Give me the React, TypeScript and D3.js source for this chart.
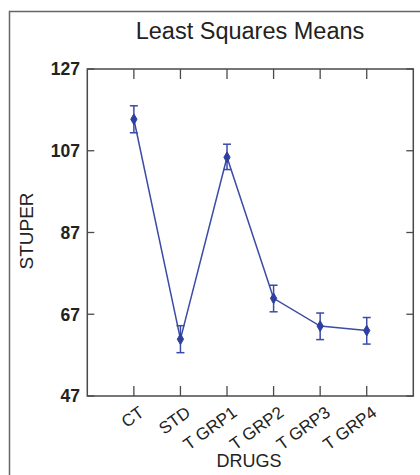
import React from "react";
import * as d3 from "d3";

const categories = ["CT", "STD", "T GRP1", "T GRP2", "T GRP3", "T GRP4"];
const means = [114.7, 60.9, 105.4, 70.9, 64.1, 63.0];
const lower = [111.4, 57.6, 102.4, 67.6, 60.8, 59.7];
const upper = [118.0, 64.2, 108.6, 74.1, 67.3, 66.2];
const yTicks = [47, 67, 87, 107, 127];

const W = 420;
const H = 475;
const left = 87.3;
const right = 413.3;
const top = 69;
const bottom = 396;
const font = "'Liberation Sans', Arial, sans-serif";
const blue = "#3b4ba8";
const frame = "#4a4a4a";

export default function App() {
  const x = d3.scalePoint<string>().domain(categories).range([left, right]).padding(1);
  const y = d3.scaleLinear().domain([47, 127]).range([bottom, top]);
  const line = d3
    .line<number>()
    .x((_, i) => x(categories[i]) as number)
    .y((d) => y(d));
  const cap = 4;

  return (
    <svg
      width={W}
      height={H}
      style={{ position: "absolute", left: 0, top: 0, display: "block", background: "#fff" }}
      fontFamily={font}
    >
      {/* outer border */}
      <path d={`M9.5,${H} L9.5,11.5 L${W},11.5`} fill="none" stroke="#666" strokeWidth={1.5} />
      {/* title */}
      <text x={250} y={39} textAnchor="middle" fontSize={23.5} fill="#222">
        Least Squares Means
      </text>
      {/* plot frame */}
      <rect x={left} y={top} width={right - left} height={bottom - top} fill="none" stroke={frame} strokeWidth={1.5} />
      {/* y ticks */}
      {yTicks.map((t) => (
        <g key={t}>
          <line x1={left} x2={left + 7} y1={y(t)} y2={y(t)} stroke={frame} strokeWidth={1.3} />
          <line x1={right - 7} x2={right} y1={y(t)} y2={y(t)} stroke={frame} strokeWidth={1.3} />
          <text x={80} y={y(t)} dy="0.36em" textAnchor="end" fontSize={17.5} fontWeight="bold" fill="#222">
            {t}
          </text>
        </g>
      ))}
      {/* x ticks and labels */}
      {categories.map((c) => {
        const cx = x(c) as number;
        return (
          <g key={c}>
            <line x1={cx} x2={cx} y1={top} y2={top + 10} stroke={frame} strokeWidth={1.3} />
            <line x1={cx} x2={cx} y1={bottom} y2={bottom - 10} stroke={frame} strokeWidth={1.3} />
            <text
              transform={`translate(${cx + 4},${bottom + 9}) rotate(-36)`}
              textAnchor="end"
              dy="0.72em"
              fontSize={17}
              fill="#222"
            >
              {c}
            </text>
          </g>
        );
      })}
      {/* axis titles */}
      <text transform={`translate(33,231) rotate(-90)`} textAnchor="middle" fontSize={19} fill="#222">
        STUPER
      </text>
      <text x={249} y={467} textAnchor="middle" fontSize={18} fill="#222">
        DRUGS
      </text>
      {/* connecting line */}
      <path d={line(means) as string} fill="none" stroke={blue} strokeWidth={1.5} />
      {/* error bars */}
      {categories.map((c, i) => {
        const cx = x(c) as number;
        return (
          <g key={c} stroke={blue} strokeWidth={1.5}>
            <line x1={cx} x2={cx} y1={y(lower[i])} y2={y(upper[i])} />
            <line x1={cx - cap} x2={cx + cap} y1={y(lower[i])} y2={y(lower[i])} />
            <line x1={cx - cap} x2={cx + cap} y1={y(upper[i])} y2={y(upper[i])} />
          </g>
        );
      })}
      {/* markers */}
      {categories.map((c, i) => (
        <path
          key={c}
          transform={`translate(${x(c)},${y(means[i])})`}
          d={d3.symbol().type(d3.symbolDiamond).size(34)() as string}
          fill="#2f3f9f"
          stroke="#2f3f9f"
          strokeWidth={1}
        />
      ))}
    </svg>
  );
}
